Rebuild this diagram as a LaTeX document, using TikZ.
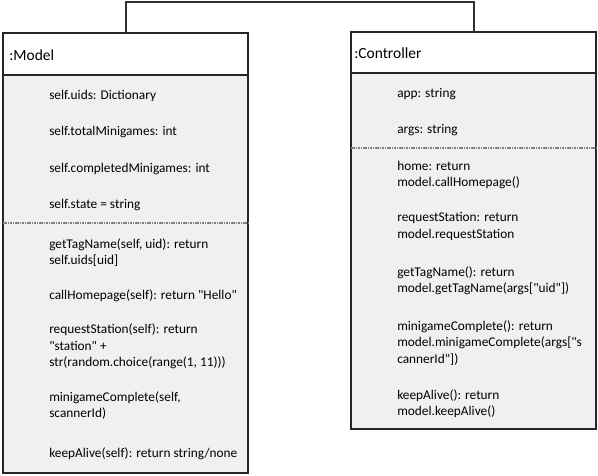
\documentclass[tikz,border=0pt]{standalone}
\usepackage{fontspec}
\setmainfont{Carlito}[Ligatures=TeXOff]
\begin{document}
\begin{tikzpicture}[x=0.75pt,y=-0.75pt,
  box/.style={draw=black!85,line width=0.9pt,fill=white},
  bodyfill/.style={fill=black!6},
  sep/.style={draw=black!50,line width=0.9pt,dash pattern=on 1.2pt off 0.6pt},
  hdr/.style={anchor=base west,inner sep=0pt,font=\fontsize{11.6pt}{14pt}\selectfont},
  txt/.style={anchor=base west,inner sep=0pt,font=\fontsize{10pt}{12.5pt}\selectfont},
  conn/.style={draw=black!80,line width=0.9pt}]
\useasboundingbox (0,0) rectangle (598,475);
% Model
\fill[bodyfill] (3,75) rectangle (248,473);
\draw[box,fill=none] (3,33) rectangle (248,473);
\draw[draw=black!85,line width=0.9pt] (3,75) -- (248,75);
\draw[sep] (3,223) -- (248,223);
\coordinate (mtop) at (126,33);
\node[hdr] (mh) at (9,60) {:Model};
\node[txt] (m1) at (49,99) {self.uids: Dictionary};
\node[txt] (m2) at (49,135.5) {self.totalMinigames: int};
\node[txt] (m3) at (49,172) {self.completedMinigames: int};
\node[txt] (m4) at (49,208.5) {self.state = string};
\node[txt] (m5) at (49,248) {getTagName(self, uid): return};
\node[txt] (m6) at (49,264.5) {self.uids[uid]};
\node[txt] (m7) at (49,299) {callHomepage(self): return "Hello"};
\node[txt] (m8) at (49,333.5) {requestStation(self): return};
\node[txt] (m9) at (49,350) {"station" +};
\node[txt] (m10) at (49,366.5) {str(random.choice(range(1, 11)))};
\node[txt] (m11) at (49,401) {minigameComplete(self,};
\node[txt] (m12) at (49,417.5) {scannerId)};
\node[txt] (m13) at (49,457) {keepAlive(self): return string/none};
% Controller
\fill[bodyfill] (351,73) rectangle (596,429);
\draw[box,fill=none] (351,32) rectangle (596,429);
\draw[draw=black!85,line width=0.9pt] (351,73) -- (596,73);
\draw[sep] (351,148) -- (596,148);
\coordinate (ctop) at (474,32);
\node[hdr] (ch) at (354,58) {:Controller};
\node[txt] (c1) at (397,97) {app: string};
\node[txt] (c2) at (397,133.5) {args: string};
\node[txt] (c3) at (397,170) {home: return};
\node[txt] (c4) at (397,186.5) {model.callHomepage()};
\node[txt] (c5) at (397,221.5) {requestStation: return};
\node[txt] (c6) at (397,238) {model.requestStation};
\node[txt] (c7) at (397,276) {getTagName(): return};
\node[txt] (c8) at (397,292.5) {model.getTagName(args["uid"])};
\node[txt] (c9) at (397,330) {minigameComplete(): return};
\node[txt] (c10) at (397,346.5) {model.minigameComplete(args["s};
\node[txt] (c11) at (397,363) {cannerId"])};
\node[txt] (c12) at (397,399) {keepAlive(): return};
\node[txt] (c13) at (397,415.5) {model.keepAlive()};
% connector
\draw[conn] (mtop) -- (126,2) -- (474,2) -- (ctop);
\end{tikzpicture}
\end{document}
